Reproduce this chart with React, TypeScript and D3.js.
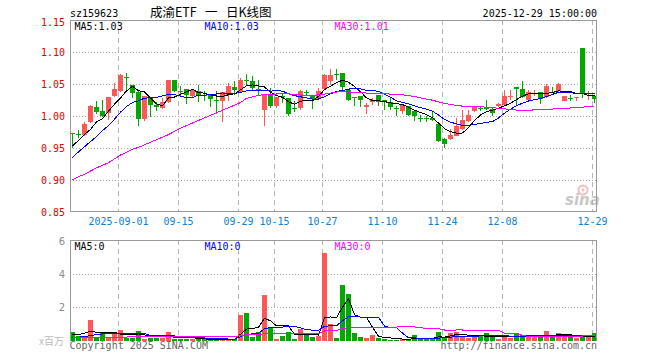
import React from 'react';
import * as d3 from 'd3';

// ---------- data ----------
const dates: string[] = [
  '2025-08-20','2025-08-21','2025-08-22','2025-08-25','2025-08-26','2025-08-27','2025-08-28','2025-08-29',
  '2025-09-01','2025-09-02','2025-09-03','2025-09-04','2025-09-05','2025-09-08','2025-09-09','2025-09-10','2025-09-11','2025-09-12',
  '2025-09-15','2025-09-16','2025-09-17','2025-09-18','2025-09-19','2025-09-22','2025-09-23','2025-09-24','2025-09-25','2025-09-26',
  '2025-09-29','2025-09-30',
  '2025-10-09','2025-10-10','2025-10-13','2025-10-14','2025-10-15','2025-10-16','2025-10-17','2025-10-20','2025-10-21','2025-10-22',
  '2025-10-23','2025-10-24','2025-10-27','2025-10-28','2025-10-29','2025-10-30','2025-10-31',
  '2025-11-03','2025-11-04','2025-11-05','2025-11-06','2025-11-07','2025-11-10','2025-11-11','2025-11-12','2025-11-13','2025-11-14',
  '2025-11-17','2025-11-18','2025-11-19','2025-11-20','2025-11-21','2025-11-24','2025-11-25','2025-11-26','2025-11-27','2025-11-28',
  '2025-12-01','2025-12-02','2025-12-03','2025-12-04','2025-12-05','2025-12-08','2025-12-09','2025-12-10','2025-12-11','2025-12-12',
  '2025-12-15','2025-12-16','2025-12-17','2025-12-18','2025-12-19','2025-12-22','2025-12-23','2025-12-24','2025-12-25','2025-12-26',
  '2025-12-29',
];

const opens: number[] = [
  0.974,0.9715,0.971,0.990,1.0146,1.0073,1.0047,1.0307,1.0396,1.0608,
  1.049,1.037,0.9958,1.028,1.0177,1.0125,1.0214,1.0568,1.039,1.0427,
  1.0307,1.039,1.0335,1.033,1.0245,1.023,1.0333,1.0448,1.037,1.056,
  1.055,1.042,1.0089,1.0333,1.0151,1.031,1.028,1.013,1.0125,1.0375,
  1.0333,1.0266,1.0422,1.0542,1.066,1.0672,1.040,1.030,1.0318,1.014,
  1.0214,1.0333,1.0245,1.0214,1.013,1.0073,1.0161,1.0073,0.9962,0.9962,
  0.9969,0.988,0.9646,0.9646,0.9693,0.9797,0.9917,1.0073,1.013,1.013,
  1.011,1.015,1.0177,1.031,1.0448,1.0427,1.0255,1.0355,1.0375,1.0297,
  1.0375,1.0385,1.024,1.0285,1.0295,1.106,1.0355,1.0307,
];
const highs: number[] = [
  0.974,0.9776,0.990,1.0167,1.024,1.0255,1.030,1.0516,1.0656,1.0672,
  1.049,1.041,1.032,1.028,1.0214,1.028,1.057,1.0568,1.0464,1.0427,
  1.0411,1.049,1.0385,1.033,1.0385,1.037,1.0516,1.054,1.060,1.0656,
  1.062,1.0568,1.0323,1.0437,1.030,1.034,1.028,1.023,1.041,1.041,
  1.0333,1.0437,1.065,1.0734,1.0734,1.0672,1.040,1.0297,1.0318,1.0203,
  1.028,1.0333,1.0245,1.028,1.0151,1.0177,1.0161,1.009,1.002,1.0005,
  1.0073,0.988,0.9656,0.9797,0.9969,1.0099,1.0089,1.0151,1.016,1.0255,
  1.012,1.020,1.041,1.041,1.0448,1.0552,1.040,1.041,1.0375,1.050,
  1.0453,1.0516,1.0307,1.0333,1.030,1.106,1.0385,1.0333,
];
const lows: number[] = [
  0.950,0.9656,0.969,0.989,1.0036,0.9984,0.994,1.0297,1.038,1.0411,
  1.028,0.9839,0.9917,0.9984,1.0073,1.011,1.020,1.038,1.031,1.018,
  1.030,1.0214,1.024,1.014,1.0036,0.990,1.024,1.033,1.036,1.049,
  1.040,1.0333,0.985,1.0125,1.0125,1.020,1.0005,1.0057,1.010,1.0333,
  1.0115,1.0255,1.041,1.049,1.0557,1.0411,1.023,1.0151,1.0135,1.0036,
  1.0177,1.016,1.010,1.010,1.0005,1.0036,1.0005,0.9917,0.990,0.990,
  0.9917,0.9589,0.950,0.963,0.968,0.9786,0.990,1.0063,1.0073,1.010,
  1.000,1.0145,1.0167,1.0255,1.0177,1.028,1.0245,1.0307,1.0193,1.028,
  1.0359,1.037,1.023,1.023,1.023,1.028,1.0255,1.0203,
];
const closes: number[] = [
  0.973,0.971,0.988,1.015,1.0057,0.9995,1.0297,1.0427,1.0635,1.0604,
  1.036,0.9958,1.0318,1.0177,1.014,1.0214,1.0568,1.0385,1.0385,1.0333,
  1.0411,1.032,1.033,1.026,1.024,1.037,1.0464,1.040,1.0568,1.0557,
  1.0437,1.0385,1.0323,1.0151,1.0297,1.0305,1.0036,1.0125,1.0385,1.037,
  1.0266,1.0396,1.0646,1.0646,1.0656,1.0453,1.0245,1.0297,1.0245,1.0177,
  1.0255,1.0214,1.024,1.0135,1.0125,1.0177,1.002,0.9995,0.9958,0.9958,
  0.9932,0.9604,0.9568,0.9708,0.9849,0.9943,1.002,1.0135,1.0125,1.0125,
  1.004,1.0185,1.0318,1.0318,1.0427,1.0297,1.0375,1.036,1.0266,1.0464,
  1.037,1.0505,1.0307,1.028,1.030,1.036,1.036,1.0266,
];
// volume, millions of shares
const volumes: number[] = [
  0.51,0.25,0.30,1.23,0.18,0.44,0.24,0.44,0.63,0.18,
  0.18,0.57,0.12,0.14,0.14,0.14,0.53,0.10,0.10,0.12,
  0.08,0.08,0.08,0.06,0.06,0.06,0.10,0.12,1.52,1.64,
  0.24,0.50,2.77,0.79,0.12,0.28,0.51,0.12,0.69,0.34,
  0.20,0.28,5.29,1.00,0.14,3.37,2.83,0.46,0.22,0.14,
  0.34,0.14,0.08,0.06,0.06,0.10,0.06,0.34,0.08,0.08,
  0.10,0.51,0.24,0.44,0.51,0.24,0.14,0.24,0.26,0.44,
  0.26,0.12,0.24,0.18,0.44,0.34,0.24,0.24,0.24,0.57,
  0.24,0.46,0.26,0.24,0.14,0.24,0.24,0.46,
];

// moving-average values at the start of the window (they depend on earlier days)
const ma5Head: number[] = [0.953, 0.962, 0.971, 0.979];
const ma10Head: number[] = [0.935, 0.944, 0.952, 0.960, 0.968, 0.977, 0.985, 0.995, 1.006];
const ma30Head: number[] = [
  0.900,0.905,0.909,0.914,0.919,0.923,0.927,0.933,0.939,0.943,
  0.948,0.951,0.955,0.959,0.963,0.967,0.971,0.976,0.981,0.985,
  0.989,0.993,0.997,1.001,1.005,1.009,1.013,1.017,1.021,
];
const vma5Head: number[] = [0.34, 0.37, 0.43, 0.57];
const vma10Head: number[] = [0.16, 0.20, 0.24, 0.30, 0.35, 0.40, 0.42, 0.43, 0.43];
const vma30Head: number[] = [
  0.18,0.18,0.18,0.19,0.19,0.20,0.20,0.20,0.21,0.21,
  0.22,0.22,0.22,0.23,0.23,0.23,0.24,0.24,0.24,0.24,
  0.24,0.24,0.24,0.24,0.24,0.24,0.24,0.24,0.30,
];

const priceTicks: number[] = [0.85, 0.90, 0.95, 1.00, 1.05, 1.10, 1.15];
const priceGrid: number[] = [0.90, 0.95, 1.00, 1.05, 1.10];
const volTicks: number[] = [6, 4, 2];
const volGrid: number[] = [2, 4];
const xTickDates: string[] = ['2025-09-01','2025-09-15','2025-09-29','2025-10-15','2025-10-27','2025-11-10','2025-11-24','2025-12-08','2025-12-29'];
const xTickLabels: string[] = ['2025-09-01','09-15','09-29','10-15','10-27','11-10','11-24','12-08','12-29'];
const maLegendPrice: string[] = ['MA5:1.03', 'MA10:1.03', 'MA30:1.01'];
const maLegendVol: string[] = ['MA5:0', 'MA10:0', 'MA30:0'];
const symbol = 'sz159623';
const titleParts: string[] = ['成渝ETF', '一', '日K线图'];
const stamp = '2025-12-29 15:00:00';

// ---------- helpers ----------
function movingAvg(vals: number[], n: number, head: number[]): number[] {
  return vals.map((_, i) => {
    if (i < n - 1) return head[i];
    return d3.mean(vals.slice(i - n + 1, i + 1)) as number;
  });
}

const MONO = '"DejaVu Sans Mono", "Liberation Mono", monospace';
const CJK = '"Noto Sans CJK SC", sans-serif';
const RED = '#ff5757';
const GREEN = '#00a800';
const MA_COLORS = ['#000000', '#0000ff', '#ff00ff'];

export default function App() {
  const L = 70, R = 596.5;
  const pTop = 20, pBot = 211.5;
  const vTop = 240, vBot = 341;

  const x = d3.scaleBand<string>().domain(dates).range([69.5, 597.5]).paddingInner(1 / 6).paddingOuter(1 / 12);
  const bw = x.bandwidth();
  const cx = (d: string) => (x(d) as number) + bw / 2;
  const y = d3.scaleLinear().domain([0.85, 1.15]).range([212, 20]);
  const yv = d3.scaleLinear().domain([0, 6]).range([340.5, 241]);

  const ma = [movingAvg(closes, 5, ma5Head), movingAvg(closes, 10, ma10Head), movingAvg(closes, 30, ma30Head)];
  const vma = [movingAvg(volumes, 5, vma5Head), movingAvg(volumes, 10, vma10Head), movingAvg(volumes, 30, vma30Head)];

  const priceLine = d3.line<number>().x((_, i) => cx(dates[i])).y((v) => y(v));
  const volLine = d3.line<number>().x((_, i) => cx(dates[i])).y((v) => yv(v));

  const isUp = (i: number) => closes[i] > opens[i];

  return (
    <svg width={660} height={360} style={{ position: 'absolute', left: 0, top: 0, background: '#fff' }}
      fontFamily={MONO}>
      {/* header */}
      <text x={70} y={17} fontSize={10} fill="#000">{symbol}</text>
      <text x={150} y={17} fontSize={12.5} fill="#000" fontFamily={CJK}>{titleParts[0]}</text>
      <text x={205} y={17} fontSize={12.5} fill="#000" fontFamily={CJK}>{titleParts[1]}</text>
      <text x={226} y={17} fontSize={12.5} fill="#000" fontFamily={CJK}>{titleParts[2]}</text>
      <text x={597} y={17} fontSize={10} fill="#000" textAnchor="end">{stamp}</text>

      {/* watermark */}
      <g opacity={0.55}>
        <circle cx={583} cy={190} r={4.5} fill="none" stroke="#ee8a8a" strokeWidth={2} />
        <circle cx={583} cy={190} r={1.5} fill="#ee8a8a" />
        <text x={565} y={205} fontSize={15} fontWeight="bold" fontStyle="italic" fill="#9a9a9a"
          fontFamily='"DejaVu Sans", sans-serif'>sina</text>
      </g>

      {/* grids */}
      {priceGrid.map((v) => (
        <line key={'pg' + v} x1={L} x2={R} y1={Math.round(y(v)) + 0.5} y2={Math.round(y(v)) + 0.5}
          stroke="#aaaaaa" strokeDasharray="1,2" shapeRendering="crispEdges" />
      ))}
      {volGrid.map((v) => (
        <line key={'vg' + v} x1={L} x2={R} y1={Math.round(yv(v)) + 0.5} y2={Math.round(yv(v)) + 0.5}
          stroke="#aaaaaa" strokeDasharray="1,2" shapeRendering="crispEdges" />
      ))}
      {xTickDates.map((d) => (
        <g key={'vx' + d}>
          <line x1={(x(d) as number) + 0.5} x2={(x(d) as number) + 0.5} y1={pTop} y2={pBot}
            stroke="#b4b4b4" strokeDasharray="5,4" shapeRendering="crispEdges" />
          <line x1={(x(d) as number) + 0.5} x2={(x(d) as number) + 0.5} y1={vTop} y2={vBot}
            stroke="#b4b4b4" strokeDasharray="5,4" shapeRendering="crispEdges" />
        </g>
      ))}

      {/* candles */}
      {dates.map((d, i) => {
        const x0 = x(d) as number;
        const col = isUp(i) ? RED : GREEN;
        const top = y(Math.max(opens[i], closes[i]));
        const bot = y(Math.min(opens[i], closes[i]));
        return (
          <g key={'c' + d} shapeRendering="crispEdges">
            <line x1={x0 + 2.5} x2={x0 + 2.5} y1={y(highs[i])} y2={y(lows[i])} stroke={col} strokeWidth={1} />
            <rect x={x0} y={top} width={bw} height={Math.max(1, bot - top)} fill={col} />
          </g>
        );
      })}

      {/* volume bars */}
      {dates.map((d, i) => {
        const x0 = x(d) as number;
        const top = yv(volumes[i]);
        return (
          <rect key={'v' + d} x={x0} y={Math.min(top, vBot - 1)} width={bw} height={Math.max(1, vBot - top)}
            fill={isUp(i) ? RED : GREEN} shapeRendering="crispEdges" />
        );
      })}

      {/* MA lines */}
      {ma.map((s, k) => (
        <path key={'ma' + k} d={priceLine(s) as string} fill="none" stroke={MA_COLORS[k]} strokeWidth={1}
          shapeRendering="crispEdges" />
      ))}
      {vma.map((s, k) => (
        <path key={'vma' + k} d={volLine(s) as string} fill="none" stroke={MA_COLORS[k]} strokeWidth={1}
          shapeRendering="crispEdges" />
      ))}

      {/* frames */}
      <path d={`M${L + 0.5},${pTop + 0.5}H${R}V${pBot}H${L + 0.5}Z`} fill="none" stroke="#999" shapeRendering="crispEdges" />
      <path d={`M${L + 0.5},${vBot}V${vTop + 0.5}H${R}V${vBot}`} fill="none" stroke="#999" shapeRendering="crispEdges" />

      {/* legends */}
      {maLegendPrice.map((t, k) => (
        <text key={'lp' + k} x={74.5 + k * 130} y={30} fontSize={10} fill={MA_COLORS[k]}>{t}</text>
      ))}
      {maLegendVol.map((t, k) => (
        <text key={'lv' + k} x={74.5 + k * 130} y={250} fontSize={10} fill={MA_COLORS[k]}>{t}</text>
      ))}

      {/* price axis labels */}
      {priceTicks.map((v) => (
        <text key={'pt' + v} x={65} y={Math.max(y(v), 22) + 3.5} fontSize={10} fill="#e60000" textAnchor="end">
          {v.toFixed(2)}
        </text>
      ))}
      {/* x labels */}
      {xTickDates.map((d, k) => (
        <text key={'xt' + d} x={(x(d) as number) + 0.5} y={225} fontSize={10} fill="#1080d0" textAnchor="middle">
          {xTickLabels[k]}
        </text>
      ))}
      {/* volume axis labels */}
      <g fontFamily='"DejaVu Sans", sans-serif' fontSize={10} fill="#8c8c8c" textAnchor="end">
        {volTicks.map((v) => (
          <text key={'vt' + v} x={65} y={Math.round(yv(v)) + 3.5}>{String(v)}</text>
        ))}
      </g>
      <text x={64} y={345} fontSize={10} fill="#bbb" textAnchor="end" fontFamily={CJK}>x百万</text>

      {/* footer */}
      <text x={69.5} y={349} fontSize={10} fill="#666">Copyright 2025 SINA.COM</text>
      <text x={597} y={349} fontSize={10} fill="#666" textAnchor="end">http://finance.sina.com.cn</text>
    </svg>
  );
}
